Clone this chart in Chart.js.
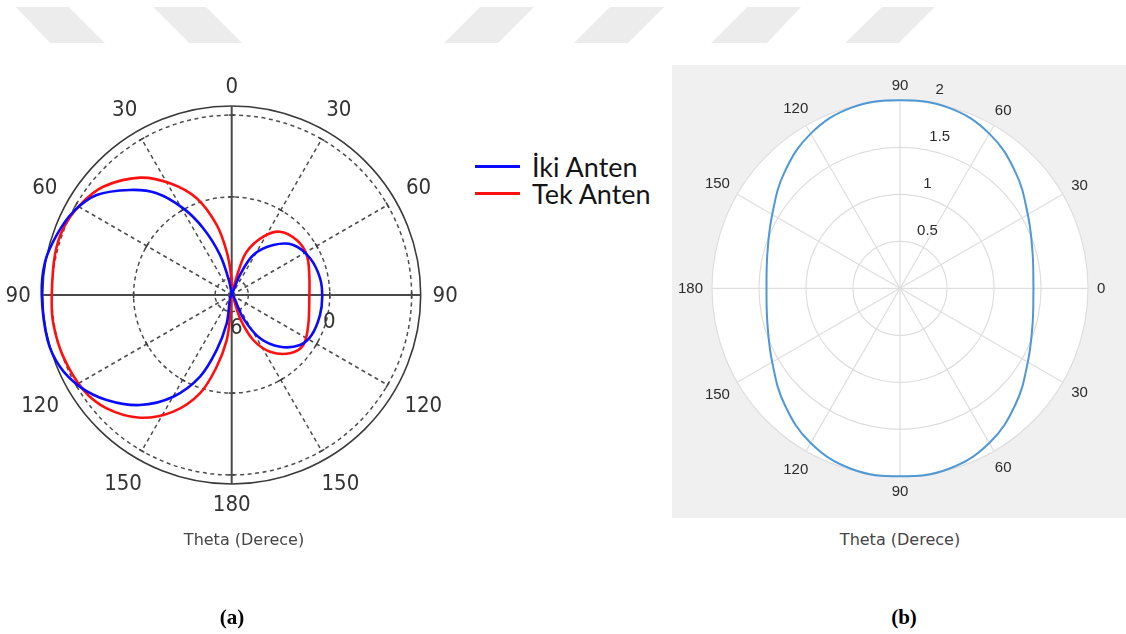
<!DOCTYPE html>
<html lang="tr">
<head>
<meta charset="utf-8">
<title>Theta (Derece)</title>
<script src="https://cdn.jsdelivr.net/npm/chart.js@4.4.1/dist/chart.umd.min.js"></script>
<style>
  html, body { margin:0; padding:0; background:#fff; }
  body { position:relative; width:1126px; height:634px; overflow:hidden; }
  .abs { position:absolute; }
  #stripes { left:0; top:0; filter:blur(0.7px); }
  #boxA { left:0; top:60px; width:464px; height:500px; }
  #boxB { left:672px; top:65px; width:454px; height:453px; background:#f0f0f0; }
  .axisTitle { font-family:"DejaVu Sans", sans-serif; font-size:16px; line-height:20px; color:#454545; transform:translateX(-50%); white-space:nowrap; }
  .panel { font-family:"Liberation Serif", "Times New Roman", serif; font-weight:bold; font-size:21px; line-height:24px; color:#000; transform:translateX(-50%); }
  #legend { left:475px; top:153px; font-family:Lato, "Noto Sans", sans-serif; font-size:27px; color:#151515; }
  .item { display:flex; align-items:center; height:27px; white-space:nowrap; }
  .swatch { width:45px; height:3px; margin-right:12px; }
</style>
</head>
<body>
<svg id="stripes" class="abs" width="1126" height="50">
  <g fill="#ececec">
    <polygon points="16,7 69,7 105,43 50,43"/>
    <polygon points="153,7 206,7 242,43 189,43"/>
    <polygon points="480,7 534,7 498,43 444,43"/>
    <polygon points="610,7 664,7 628,43 574,43"/>
    <polygon points="747,7 801,7 767,43 711,43"/>
    <polygon points="882,7 935,7 899,43 845,43"/>
  </g>
</svg>

<div id="boxA" class="abs"><canvas id="chartA" width="464" height="500"></canvas></div>
<div id="boxB" class="abs"><canvas id="chartB" width="454" height="453"></canvas></div>

<div id="legend" class="abs"></div>

<div class="abs axisTitle" style="left:244px; top:530px;">Theta (Derece)</div>
<div class="abs axisTitle" style="left:900px; top:530px;">Theta (Derece)</div>
<div class="abs panel" style="left:232px; top:605px;">(a)</div>
<div class="abs panel" style="left:904px; top:605px;">(b)</div>

<script>
// ---- Pattern (a): angle in degrees clockwise from the top, radius relative to the outer ring ----
const phiIki = [0, 22.5, 28.4, 39.8, 50.9, 64.9, 79.3, 91.1, 102.8, 116.6, 126.2, 136.9, 146.8, 153.5, 180,
  190, 195.3, 201.2, 209.9, 219.8, 230.0, 238.8, 247.3, 256.3, 270, 280.1, 288.9, 297.7, 306.5, 315.9, 323.6, 330.8, 336.9, 343.7, 349.8, 360];
const rIki = [0, 0.115, 0.241, 0.344, 0.420, 0.458, 0.476, 0.479, 0.479, 0.473, 0.448, 0.375, 0.274, 0.138, 0,
  0.152, 0.302, 0.463, 0.621, 0.758, 0.864, 0.938, 0.985, 1.003, 1.005, 1.003, 0.979, 0.947, 0.889, 0.774, 0.669, 0.525, 0.384, 0.221, 0.071, 0];

const phiTek = [0, 15.8, 19.1, 28.5, 37.3, 49.8, 61.9, 75.5, 92.4, 111.4, 124.9, 135.0, 145.9, 154.4, 160.4, 180,
  184.5, 186.3, 191.8, 197.9, 206.6, 216.8, 227.8, 237.4, 249.9, 261.0, 270, 282.8, 291.6, 300.7, 310.1, 322.0, 331.1, 340.1, 347.9, 353.4, 358.0, 360];
const rTek = [0, 0.128, 0.242, 0.351, 0.421, 0.450, 0.450, 0.424, 0.411, 0.435, 0.462, 0.436, 0.362, 0.264, 0.131, 0,
  0.115, 0.240, 0.388, 0.547, 0.690, 0.811, 0.893, 0.932, 0.949, 0.956, 0.952, 0.959, 0.958, 0.933, 0.889, 0.788, 0.675, 0.544, 0.379, 0.231, 0.106, 0];

const angleTicksA = ['0', '30', '60', '90', '120', '150', '180', '150', '120', '90', '60', '30'];
const dashedRingsA = [0.088, 0.519, 0.952];
const ringLabelsA = ['6', '0'];

// ---- Pattern (b): angle in degrees counter-clockwise from the right ----
const thetaB = [0, 15, 30, 45, 60, 75, 90, 105, 120, 135, 150, 165, 180, 195, 210, 225, 240, 255, 270, 285, 300, 315, 330, 345, 360];
const rB = [1.42, 1.46, 1.57, 1.74, 1.90, 1.99, 2.00, 1.99, 1.90, 1.74, 1.57, 1.46, 1.42, 1.46, 1.57, 1.74, 1.90, 1.99, 2.00, 1.99, 1.90, 1.74, 1.57, 1.46, 1.42];

const angleTicksB = ['0', '30', '60', '90', '120', '150', '180', '150', '120', '90', '60', '30'];
const ringsB = [0.5, 1, 1.5, 2];
const ringLabelsB = ['0.5', '1', '1.5', '2'];

const DEG = Math.PI / 180;

// polar (clockwise from top) -> cartesian
function fromTop(phi, r) { return phi.map((p, i) => ({ x: r[i] * Math.sin(p * DEG), y: r[i] * Math.cos(p * DEG) })); }
// polar (counter-clockwise from right) -> cartesian
function fromRight(th, r) { return th.map((t, i) => ({ x: r[i] * Math.cos(t * DEG), y: r[i] * Math.sin(t * DEG) })); }

// equal-aspect view: canvas size, centre pixel and pixels per unit
function view(w, h, cx, cy, unit) {
  return {
    x: { type: 'linear', display: false, min: -cx / unit, max: (w - cx) / unit },
    y: { type: 'linear', display: false, min: -(h - cy) / unit, max: cy / unit }
  };
}

function geom(chart) {
  const { x, y } = chart.scales;
  const cx = x.getPixelForValue(0), cy = y.getPixelForValue(0);
  return { cx, cy, k: x.getPixelForValue(1) - cx };
}

const gridA = {
  id: 'gridA',
  beforeDatasetsDraw(chart) {
    const { ctx } = chart;
    const { cx, cy, k } = geom(chart);
    ctx.save();
    // dashed rings and spokes
    ctx.setLineDash([4, 3.5]);
    ctx.strokeStyle = '#4d4d4d';
    ctx.lineWidth = 1.5;
    dashedRingsA.forEach(v => { ctx.beginPath(); ctx.arc(cx, cy, v * k, 0, 2 * Math.PI); ctx.stroke(); });
    const rr = dashedRingsA[dashedRingsA.length - 1] * k;
    for (let a = 30; a < 360; a += 30) {
      if (a % 90 === 0) continue;
      ctx.beginPath();
      ctx.moveTo(cx, cy);
      ctx.lineTo(cx + rr * Math.sin(a * DEG), cy - rr * Math.cos(a * DEG));
      ctx.stroke();
    }
    ctx.setLineDash([]);
    // small ticks where spokes meet the rings
    ctx.strokeStyle = '#3c3c3c';
    ctx.lineWidth = 1.5;
    for (let a = 0; a < 360; a += 30) {
      const s = Math.sin(a * DEG), c = Math.cos(a * DEG);
      dashedRingsA.slice(1).forEach(v => {
        const px = cx + v * k * s, py = cy - v * k * c;
        ctx.beginPath();
        ctx.moveTo(px - 3 * c, py - 3 * s);
        ctx.lineTo(px + 3 * c, py + 3 * s);
        ctx.stroke();
      });
    }
    // outer ring
    ctx.strokeStyle = '#3a3a3a';
    ctx.lineWidth = 1.6;
    ctx.beginPath(); ctx.arc(cx, cy, k, 0, 2 * Math.PI); ctx.stroke();
    // main axes
    ctx.strokeStyle = '#4a4a4a';
    ctx.lineWidth = 2;
    ctx.beginPath();
    ctx.moveTo(cx - k, cy); ctx.lineTo(cx + k, cy);
    ctx.moveTo(cx, cy - k); ctx.lineTo(cx, cy + k);
    ctx.stroke();
    // angle labels
    ctx.font = '22px "DejaVu Sans Condensed", "DejaVu Sans", sans-serif';
    ctx.fillStyle = '#333';
    ctx.textAlign = 'center';
    ctx.textBaseline = 'middle';
    angleTicksA.forEach((lab, i) => {
      const t = i * 30 * DEG, s = Math.sin(t), c = Math.cos(t);
      const w = ctx.measureText(lab).width;
      const d = 1.063 * k + (w / 2) * Math.abs(s) + 8 * Math.abs(c);
      ctx.fillText(lab, cx + d * s, cy - d * c + 1);
    });
    // ring labels
    const ringAngles = [172, 105];
    ringLabelsA.forEach((lab, i) => {
      const d = dashedRingsA[i] * k + (i === 0 ? 16 : 3);
      const t = ringAngles[i] * DEG;
      ctx.fillText(lab, cx + d * Math.sin(t), cy - d * Math.cos(t) + 1);
    });
    ctx.restore();
  }
};

const gridB = {
  id: 'gridB',
  beforeDatasetsDraw(chart) {
    const { ctx } = chart;
    const { cx, cy, k } = geom(chart);
    const rMax = ringsB[ringsB.length - 1] * k;
    ctx.save();
    ctx.fillStyle = '#ffffff';
    ctx.beginPath(); ctx.arc(cx, cy, rMax, 0, 2 * Math.PI); ctx.fill();
    ctx.strokeStyle = '#dedede';
    ctx.lineWidth = 1.2;
    ringsB.forEach(v => { ctx.beginPath(); ctx.arc(cx, cy, v * k, 0, 2 * Math.PI); ctx.stroke(); });
    for (let a = 0; a < 360; a += 30) {
      ctx.beginPath();
      ctx.moveTo(cx, cy);
      ctx.lineTo(cx + rMax * Math.cos(a * DEG), cy - rMax * Math.sin(a * DEG));
      ctx.stroke();
    }
    ctx.font = '15px "Liberation Sans", Arial, sans-serif';
    ctx.fillStyle = '#2b2b2b';
    ctx.textAlign = 'center';
    ctx.textBaseline = 'middle';
    angleTicksB.forEach((lab, i) => {
      const t = i * 30 * DEG, c = Math.cos(t), s = Math.sin(t);
      const w = ctx.measureText(lab).width;
      const d = 2.096 * k + (w / 2) * Math.abs(c) + 6 * Math.abs(s);
      ctx.fillText(lab, cx + d * c, cy - d * s + 1);
    });
    ctx.textAlign = 'left';
    ringLabelsB.forEach((lab, i) => {
      const r = ringsB[i] * k;
      ctx.fillText(lab, cx + 0.13 * r + 11, cy - (r + 11) + 1);
    });
    ctx.restore();
  }
};

const common = {
  responsive: false,
  animation: false,
  devicePixelRatio: 1,
  events: [],
  layout: { padding: 0 },
  plugins: { legend: { display: false }, tooltip: { enabled: false } }
};

const chartA = new Chart(document.getElementById('chartA'), {
  type: 'scatter',
  data: {
    datasets: [
      { label: 'İki Anten', data: fromTop(phiIki, rIki), borderColor: '#0a0aff', borderWidth: 2.6,
        showLine: true, pointRadius: 0, tension: 0.35, fill: false },
      { label: 'Tek Anten', data: fromTop(phiTek, rTek), borderColor: '#ff1010', borderWidth: 2.6,
        showLine: true, pointRadius: 0, tension: 0.35, fill: false }
    ]
  },
  options: Object.assign({}, common, { scales: view(464, 500, 231.7, 235, 189) }),
  plugins: [gridA]
});

new Chart(document.getElementById('chartB'), {
  type: 'scatter',
  data: {
    datasets: [
      { label: 'r', data: fromRight(thetaB, rB), borderColor: '#4f98d3', borderWidth: 2,
        showLine: true, pointRadius: 0, tension: 0.4, fill: false }
    ]
  },
  options: Object.assign({}, common, { scales: view(454, 453, 228, 223.3, 94) }),
  plugins: [gridB]
});

// legend for pattern (a), built from its datasets
const legendBox = document.getElementById('legend');
chartA.data.datasets.forEach(ds => {
  const item = document.createElement('div');
  item.className = 'item';
  const sw = document.createElement('span');
  sw.className = 'swatch';
  sw.style.background = ds.borderColor;
  const tx = document.createElement('span');
  tx.textContent = ds.label;
  item.appendChild(sw);
  item.appendChild(tx);
  legendBox.appendChild(item);
});
</script>
</body>
</html>
